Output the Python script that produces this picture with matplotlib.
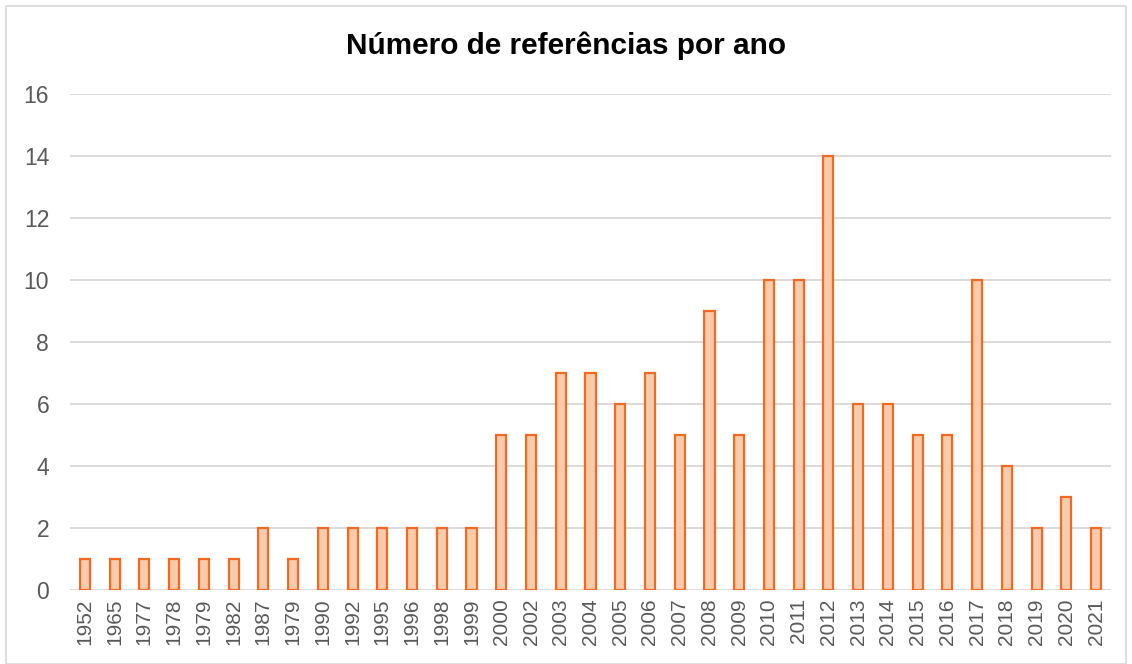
import matplotlib
matplotlib.use("Agg")
import matplotlib.pyplot as plt
from matplotlib.patches import Rectangle

years = ["1952", "1965", "1977", "1978", "1979", "1982", "1987", "1979",
         "1990", "1992", "1995", "1996", "1998", "1999", "2000", "2002",
         "2003", "2004", "2005", "2006", "2007", "2008", "2009", "2010",
         "2011", "2012", "2013", "2014", "2015", "2016", "2017", "2018",
         "2019", "2020", "2021"]
counts = [1, 1, 1, 1, 1, 1, 2, 1, 2, 2, 2, 2, 2, 2, 5, 5, 7, 7, 6, 7, 5, 9,
          5, 10, 10, 14, 6, 6, 5, 5, 10, 4, 2, 3, 2]

plt.rcParams["font.family"] = ["Liberation Sans", "DejaVu Sans"]

fig = plt.figure(figsize=(11.32, 6.64), dpi=100)
ax = fig.add_axes([70 / 1132, 1 - 590 / 664, 1041 / 1132, 496 / 664])

x = range(len(years))
ax.bar(x, counts, width=0.34, color="#F8CBAD", edgecolor="#F26A21",
       linewidth=1.6, zorder=3)

ax.set_xlim(-0.5, len(years) - 0.5)
ax.set_ylim(0, 16)
ax.set_yticks(range(0, 17, 2))
ax.set_xticks(list(x))
ax.set_xticklabels(years, rotation=90)
ax.tick_params(axis="both", length=0, colors="#595959")
ax.tick_params(axis="y", labelsize=16.5, pad=15)
ax.tick_params(axis="x", labelsize=15, pad=6)
ax.grid(axis="y", color="#D9D9D9", linewidth=1.3, zorder=0)
for s in ax.spines.values():
    s.set_visible(False)

fig.text(0.5, 1 - 46 / 664, "Número de referências por ano", ha="center",
         va="center", fontsize=21.4, fontweight="bold", color="black")

# outer chart border
fig.patches.append(Rectangle((6 / 1132, 0), 1120 / 1132, 1 - 6 / 664,
                             transform=fig.transFigure, fill=False,
                             edgecolor="#D9D9D9", linewidth=1.2))

fig.savefig("out.png", dpi=100)
